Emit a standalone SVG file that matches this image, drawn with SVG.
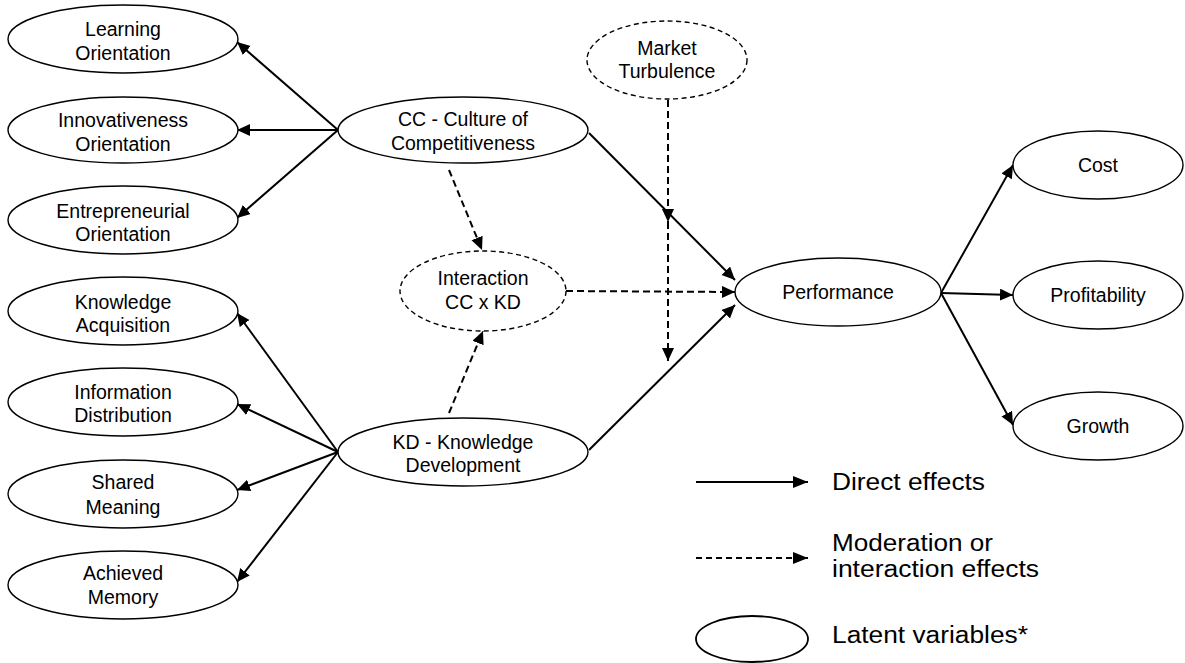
<svg xmlns="http://www.w3.org/2000/svg" width="1185" height="663" viewBox="0 0 1185 663">
  <style>
    .node ellipse { fill: #ffffff; stroke: #000000; stroke-width: 1.4; }
    .node.dashed ellipse { stroke-dasharray: 5 3.5; }
    .node text { font-family: "Liberation Sans", Arial, sans-serif; font-size: 19.5px; fill: #000000; text-anchor: middle; }
    .direct { stroke: #000000; stroke-width: 2; fill: none; marker-end: url(#arrow); }
    .moderation { stroke: #000000; stroke-width: 2; fill: none; stroke-dasharray: 7 4; marker-end: url(#arrow); }
    .legend text { font-family: "Liberation Sans", Arial, sans-serif; font-size: 23px; fill: #000000; }
  </style>
  <defs>
    <marker id="arrow" markerUnits="userSpaceOnUse" markerWidth="15" markerHeight="13" refX="13" refY="6" orient="auto">
      <path d="M0,0 L13,6 L0,12 Z" fill="#000000"/>
    </marker>
    <marker id="arrow-legend" markerUnits="userSpaceOnUse" markerWidth="17" markerHeight="13" refX="15" refY="6" orient="auto">
      <path d="M0,0 L15,6 L0,12 Z" fill="#000000"/>
    </marker>
  </defs>

  <rect width="1185" height="663" fill="#ffffff"/>

  <!-- connectors -->
  <g id="connectors">
    <!-- CC to its dimensions -->
    <line class="direct" x1="338" y1="130" x2="237" y2="42"/>
    <line class="direct" x1="338" y1="130" x2="237" y2="130"/>
    <line class="direct" x1="338" y1="130" x2="237" y2="218"/>
    <!-- KD to its dimensions -->
    <line class="direct" x1="338" y1="452" x2="237" y2="313"/>
    <line class="direct" x1="338" y1="452" x2="237" y2="404"/>
    <line class="direct" x1="338" y1="452" x2="237" y2="490"/>
    <line class="direct" x1="338" y1="452" x2="237" y2="582"/>
    <!-- direct effects on performance -->
    <line class="direct" x1="589" y1="133" x2="735" y2="280"/>
    <line class="direct" x1="589" y1="450" x2="735" y2="305"/>
    <!-- performance to its dimensions -->
    <line class="direct" x1="941" y1="293" x2="1013" y2="165"/>
    <line class="direct" x1="941" y1="293" x2="1013" y2="295"/>
    <line class="direct" x1="941" y1="293" x2="1013" y2="425"/>
    <!-- interaction term -->
    <line class="moderation" x1="449" y1="170" x2="482" y2="250"/>
    <line class="moderation" x1="449" y1="413" x2="483" y2="331"/>
    <line class="moderation" x1="566" y1="291" x2="735" y2="292"/>
    <!-- market turbulence moderating both paths -->
    <line class="moderation" x1="668" y1="100" x2="668" y2="222"/>
    <line class="moderation" x1="668" y1="222" x2="668" y2="361"/>
  </g>

  <!-- culture of competitiveness dimensions -->
  <g id="learning-orientation" class="node">
    <ellipse cx="123" cy="39" rx="115" ry="34"/>
    <text x="123" y="36">Learning<tspan x="123" y="59.5">Orientation</tspan></text>
  </g>
  <g id="innovativeness-orientation" class="node">
    <ellipse cx="123" cy="130" rx="115" ry="33"/>
    <text x="123" y="126.5">Innovativeness<tspan x="123" y="150.5">Orientation</tspan></text>
  </g>
  <g id="entrepreneurial-orientation" class="node">
    <ellipse cx="123" cy="220" rx="115" ry="34"/>
    <text x="123" y="218">Entrepreneurial<tspan x="123" y="241">Orientation</tspan></text>
  </g>

  <!-- knowledge development dimensions -->
  <g id="knowledge-acquisition" class="node">
    <ellipse cx="123" cy="311" rx="115" ry="34"/>
    <text x="123" y="309">Knowledge<tspan x="123" y="332">Acquisition</tspan></text>
  </g>
  <g id="information-distribution" class="node">
    <ellipse cx="123" cy="402" rx="115" ry="34"/>
    <text x="123" y="399">Information<tspan x="123" y="422">Distribution</tspan></text>
  </g>
  <g id="shared-meaning" class="node">
    <ellipse cx="123" cy="494" rx="115" ry="34"/>
    <text x="123" y="489">Shared<tspan x="123" y="514">Meaning</tspan></text>
  </g>
  <g id="achieved-memory" class="node">
    <ellipse cx="123" cy="585" rx="115" ry="34"/>
    <text x="123" y="580">Achieved<tspan x="123" y="604">Memory</tspan></text>
  </g>

  <!-- central constructs -->
  <g id="culture-of-competitiveness" class="node">
    <ellipse cx="463" cy="130" rx="125" ry="33"/>
    <text x="463" y="126">CC - Culture of<tspan x="463" y="150">Competitiveness</tspan></text>
  </g>
  <g id="knowledge-development" class="node">
    <ellipse cx="463" cy="452" rx="125" ry="34"/>
    <text x="463" y="449">KD - Knowledge<tspan x="463" y="472">Development</tspan></text>
  </g>
  <g id="interaction" class="node dashed">
    <ellipse cx="483" cy="291" rx="83" ry="40"/>
    <text x="483" y="285">Interaction<tspan x="483" y="309">CC x KD</tspan></text>
  </g>
  <g id="market-turbulence" class="node dashed">
    <ellipse cx="667" cy="60" rx="80" ry="39"/>
    <text x="667" y="55">Market<tspan x="667" y="78">Turbulence</tspan></text>
  </g>

  <!-- performance and its dimensions -->
  <g id="performance" class="node">
    <ellipse cx="838" cy="292" rx="103" ry="34"/>
    <text x="838" y="299">Performance</text>
  </g>
  <g id="cost" class="node">
    <ellipse cx="1098" cy="165" rx="85" ry="34"/>
    <text x="1098" y="172">Cost</text>
  </g>
  <g id="profitability" class="node">
    <ellipse cx="1098" cy="295" rx="85" ry="34"/>
    <text x="1098" y="302">Profitability</text>
  </g>
  <g id="growth" class="node">
    <ellipse cx="1098" cy="426" rx="85" ry="34"/>
    <text x="1098" y="433">Growth</text>
  </g>

  <!-- legend -->
  <g id="legend" class="legend">
    <line x1="696" y1="482" x2="808" y2="482" stroke="#000000" stroke-width="2" marker-end="url(#arrow-legend)"/>
    <text x="832" y="490" textLength="153" lengthAdjust="spacingAndGlyphs">Direct effects</text>
    <line x1="696" y1="558" x2="808" y2="558" stroke="#000000" stroke-width="2" stroke-dasharray="6 4" marker-end="url(#arrow-legend)"/>
    <text x="832" y="551"><tspan textLength="161" lengthAdjust="spacingAndGlyphs">Moderation or</tspan><tspan x="832" y="577" textLength="207" lengthAdjust="spacingAndGlyphs">interaction effects</tspan></text>
    <ellipse cx="752" cy="639" rx="56" ry="23" fill="#ffffff" stroke="#000000" stroke-width="1.8"/>
    <text x="832" y="643" textLength="196" lengthAdjust="spacingAndGlyphs">Latent variables*</text>
  </g>
</svg>
